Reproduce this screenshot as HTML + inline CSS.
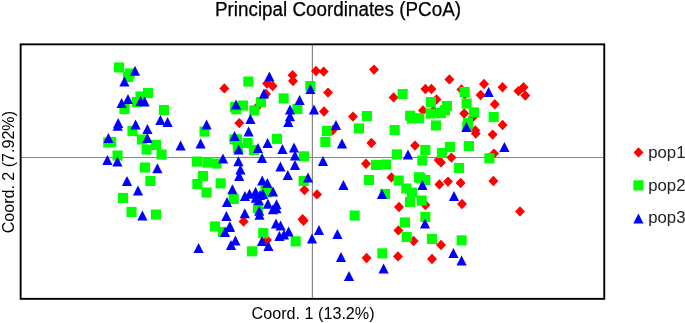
<!DOCTYPE html>
<html><head><meta charset="utf-8"><title>Principal Coordinates (PCoA)</title>
<style>
html,body{margin:0;padding:0;background:#fff;}
body{width:685px;height:323px;overflow:hidden;}
svg{display:block;font-family:"Liberation Sans",sans-serif;}
text{fill:#000;} svg text[fill]{fill:#222;}
</style></head><body>
<svg width="685" height="323" viewBox="0 0 685 323">
<rect width="685" height="323" fill="#fff"/>
<line x1="21" y1="157.45" x2="604" y2="157.45" stroke="#868686" stroke-width="1.1"/>
<line x1="312.4" y1="45" x2="312.4" y2="298" stroke="#868686" stroke-width="1.2"/>
<rect x="20.65" y="44.35" width="583.6" height="254.5" fill="none" stroke="#000" stroke-width="1.9"/>
<g fill="#ff0000"><path d="M224.3 83.2L229.3 88.4L224.3 93.6L219.3 88.4Z"/><path d="M316.0 65.8L321.0 71.0L316.0 76.2L311.0 71.0Z"/><path d="M323.6 66.4L328.6 71.6L323.6 76.8L318.6 71.6Z"/><path d="M292.6 70.0L297.6 75.2L292.6 80.4L287.6 75.2Z"/><path d="M293.0 75.8L298.0 81.0L293.0 86.2L288.0 81.0Z"/><path d="M328.0 87.4L333.0 92.6L328.0 97.8L323.0 92.6Z"/><path d="M324.0 106.3L329.0 111.5L324.0 116.7L319.0 111.5Z"/><path d="M353.0 111.4L358.0 116.6L353.0 121.8L348.0 116.6Z"/><path d="M267.0 78.4L272.0 83.6L267.0 88.8L262.0 83.6Z"/><path d="M272.6 80.8L277.6 86.0L272.6 91.2L267.6 86.0Z"/><path d="M266.0 88.8L271.0 94.0L266.0 99.2L261.0 94.0Z"/><path d="M256.6 102.4L261.6 107.6L256.6 112.8L251.6 107.6Z"/><path d="M239.3 117.9L244.3 123.1L239.3 128.3L234.3 123.1Z"/><path d="M332.6 125.1L337.6 130.3L332.6 135.5L327.6 130.3Z"/><path d="M304.4 184.8L309.4 190.0L304.4 195.2L299.4 190.0Z"/><path d="M317.0 189.2L322.0 194.4L317.0 199.6L312.0 194.4Z"/><path d="M302.6 214.0L307.6 219.2L302.6 224.4L297.6 219.2Z"/><path d="M303.6 215.6L308.6 220.8L303.6 226.0L298.6 220.8Z"/><path d="M243.6 216.3L248.6 221.5L243.6 226.7L238.6 221.5Z"/><path d="M267.0 234.8L272.0 240.0L267.0 245.2L262.0 240.0Z"/><path d="M374.0 64.4L379.0 69.6L374.0 74.8L369.0 69.6Z"/><path d="M449.4 74.2L454.4 79.4L449.4 84.6L444.4 79.4Z"/><path d="M425.4 83.8L430.4 89.0L425.4 94.2L420.4 89.0Z"/><path d="M431.4 83.8L436.4 89.0L431.4 94.2L426.4 89.0Z"/><path d="M393.6 92.2L398.6 97.4L393.6 102.6L388.6 97.4Z"/><path d="M484.0 78.8L489.0 84.0L484.0 89.2L479.0 84.0Z"/><path d="M461.4 84.2L466.4 89.4L461.4 94.6L456.4 89.4Z"/><path d="M464.6 89.2L469.6 94.4L464.6 99.6L459.6 94.4Z"/><path d="M480.6 89.8L485.6 95.0L480.6 100.2L475.6 95.0Z"/><path d="M436.5 94.2L441.5 99.4L436.5 104.6L431.5 99.4Z"/><path d="M423.0 105.2L428.0 110.4L423.0 115.6L418.0 110.4Z"/><path d="M433.3 105.6L438.3 110.8L433.3 116.0L428.3 110.8Z"/><path d="M464.2 108.3L469.2 113.5L464.2 118.7L459.2 113.5Z"/><path d="M473.0 111.8L478.0 117.0L473.0 122.2L468.0 117.0Z"/><path d="M475.3 125.2L480.3 130.4L475.3 135.6L470.3 130.4Z"/><path d="M475.8 128.4L480.8 133.6L475.8 138.8L470.8 133.6Z"/><path d="M492.6 129.4L497.6 134.6L492.6 139.8L487.6 134.6Z"/><path d="M371.4 137.8L376.4 143.0L371.4 148.2L366.4 143.0Z"/><path d="M415.0 140.4L420.0 145.6L415.0 150.8L410.0 145.6Z"/><path d="M438.6 154.8L443.6 160.0L438.6 165.2L433.6 160.0Z"/><path d="M441.0 157.2L446.0 162.4L441.0 167.6L436.0 162.4Z"/><path d="M451.4 152.4L456.4 157.6L451.4 162.8L446.4 157.6Z"/><path d="M366.0 158.6L371.0 163.8L366.0 169.0L361.0 163.8Z"/><path d="M494.0 148.4L499.0 153.6L494.0 158.8L489.0 153.6Z"/><path d="M391.4 172.2L396.4 177.4L391.4 182.6L386.4 177.4Z"/><path d="M425.4 199.8L430.4 205.0L425.4 210.2L420.4 205.0Z"/><path d="M399.0 201.8L404.0 207.0L399.0 212.2L394.0 207.0Z"/><path d="M439.4 179.2L444.4 184.4L439.4 189.6L434.4 184.4Z"/><path d="M448.0 176.4L453.0 181.6L448.0 186.8L443.0 181.6Z"/><path d="M460.6 177.8L465.6 183.0L460.6 188.2L455.6 183.0Z"/><path d="M493.4 175.8L498.4 181.0L493.4 186.2L488.4 181.0Z"/><path d="M462.0 198.8L467.0 204.0L462.0 209.2L457.0 204.0Z"/><path d="M398.4 225.2L403.4 230.4L398.4 235.6L393.4 230.4Z"/><path d="M413.6 235.8L418.6 241.0L413.6 246.2L408.6 241.0Z"/><path d="M441.0 239.8L446.0 245.0L441.0 250.2L436.0 245.0Z"/><path d="M432.0 253.8L437.0 259.0L432.0 264.2L427.0 259.0Z"/><path d="M398.0 251.2L403.0 256.4L398.0 261.6L393.0 256.4Z"/><path d="M366.6 252.8L371.6 258.0L366.6 263.2L361.6 258.0Z"/><path d="M502.5 82.1L507.5 87.3L502.5 92.5L497.5 87.3Z"/><path d="M518.4 85.9L523.4 91.1L518.4 96.3L513.4 91.1Z"/><path d="M523.5 82.1L528.5 87.3L523.5 92.5L518.5 87.3Z"/><path d="M525.3 90.3L530.3 95.5L525.3 100.7L520.3 95.5Z"/><path d="M494.8 99.1L499.8 104.3L494.8 109.5L489.8 104.3Z"/><path d="M502.6 119.8L507.6 125.0L502.6 130.2L497.6 125.0Z"/><path d="M520.0 206.2L525.0 211.4L520.0 216.6L515.0 211.4Z"/><path d="M638.5 147.2L643.5 152.4L638.5 157.6L633.5 152.4Z"/></g>
<g fill="#00ff00"><rect x="114.0" y="62.4" width="10.1" height="10.1"/><rect x="124.5" y="68.5" width="10.1" height="10.1"/><rect x="123.1" y="72.0" width="10.1" height="10.1"/><rect x="142.9" y="88.0" width="10.1" height="10.1"/><rect x="135.5" y="91.5" width="10.1" height="10.1"/><rect x="131.9" y="97.0" width="10.1" height="10.1"/><rect x="119.4" y="104.0" width="10.1" height="10.1"/><rect x="158.9" y="105.0" width="10.1" height="10.1"/><rect x="127.4" y="126.0" width="10.1" height="10.1"/><rect x="199.5" y="126.5" width="10.1" height="10.1"/><rect x="136.9" y="134.5" width="10.1" height="10.1"/><rect x="103.2" y="137.5" width="10.1" height="10.1"/><rect x="106.2" y="137.1" width="10.1" height="10.1"/><rect x="150.9" y="139.9" width="10.1" height="10.1"/><rect x="141.5" y="144.5" width="10.1" height="10.1"/><rect x="156.5" y="149.5" width="10.1" height="10.1"/><rect x="112.5" y="150.5" width="10.1" height="10.1"/><rect x="191.9" y="156.5" width="10.1" height="10.1"/><rect x="202.3" y="157.5" width="10.1" height="10.1"/><rect x="211.5" y="158.5" width="10.1" height="10.1"/><rect x="139.9" y="162.5" width="10.1" height="10.1"/><rect x="197.9" y="170.9" width="10.1" height="10.1"/><rect x="145.3" y="175.9" width="10.1" height="10.1"/><rect x="118.0" y="192.9" width="10.1" height="10.1"/><rect x="126.5" y="206.9" width="10.1" height="10.1"/><rect x="150.9" y="209.5" width="10.1" height="10.1"/><rect x="192.3" y="178.9" width="10.1" height="10.1"/><rect x="215.6" y="178.3" width="10.1" height="10.1"/><rect x="201.5" y="187.5" width="10.1" height="10.1"/><rect x="228.6" y="193.9" width="10.1" height="10.1"/><rect x="209.9" y="221.4" width="10.1" height="10.1"/><rect x="217.9" y="226.9" width="10.1" height="10.1"/><rect x="243.3" y="76.5" width="10.1" height="10.1"/><rect x="255.9" y="97.0" width="10.1" height="10.1"/><rect x="278.6" y="93.4" width="10.1" height="10.1"/><rect x="305.3" y="81.0" width="10.1" height="10.1"/><rect x="292.3" y="104.0" width="10.1" height="10.1"/><rect x="237.9" y="100.5" width="10.1" height="10.1"/><rect x="230.1" y="102.0" width="10.1" height="10.1"/><rect x="231.2" y="104.2" width="10.1" height="10.1"/><rect x="249.3" y="105.4" width="10.1" height="10.1"/><rect x="321.9" y="126.0" width="10.1" height="10.1"/><rect x="320.3" y="136.9" width="10.1" height="10.1"/><rect x="353.9" y="123.4" width="10.1" height="10.1"/><rect x="229.4" y="134.3" width="10.1" height="10.1"/><rect x="231.9" y="134.5" width="10.1" height="10.1"/><rect x="242.5" y="137.9" width="10.1" height="10.1"/><rect x="232.9" y="142.9" width="10.1" height="10.1"/><rect x="248.9" y="144.9" width="10.1" height="10.1"/><rect x="271.9" y="133.8" width="10.1" height="10.1"/><rect x="298.9" y="151.3" width="10.1" height="10.1"/><rect x="298.6" y="175.9" width="10.1" height="10.1"/><rect x="349.6" y="210.5" width="10.1" height="10.1"/><rect x="260.4" y="185.4" width="10.1" height="10.1"/><rect x="262.3" y="187.4" width="10.1" height="10.1"/><rect x="252.9" y="203.2" width="10.1" height="10.1"/><rect x="258.2" y="228.1" width="10.1" height="10.1"/><rect x="290.6" y="236.3" width="10.1" height="10.1"/><rect x="246.9" y="246.3" width="10.1" height="10.1"/><rect x="397.6" y="89.0" width="10.1" height="10.1"/><rect x="361.9" y="111.0" width="10.1" height="10.1"/><rect x="425.9" y="97.0" width="10.1" height="10.1"/><rect x="441.9" y="101.0" width="10.1" height="10.1"/><rect x="439.9" y="105.2" width="10.1" height="10.1"/><rect x="435.9" y="108.0" width="10.1" height="10.1"/><rect x="425.6" y="108.5" width="10.1" height="10.1"/><rect x="405.1" y="110.7" width="10.1" height="10.1"/><rect x="406.9" y="113.5" width="10.1" height="10.1"/><rect x="414.1" y="113.2" width="10.1" height="10.1"/><rect x="459.6" y="87.0" width="10.1" height="10.1"/><rect x="461.6" y="98.5" width="10.1" height="10.1"/><rect x="468.9" y="107.4" width="10.1" height="10.1"/><rect x="462.9" y="118.0" width="10.1" height="10.1"/><rect x="462.2" y="121.7" width="10.1" height="10.1"/><rect x="430.9" y="120.4" width="10.1" height="10.1"/><rect x="488.6" y="112.0" width="10.1" height="10.1"/><rect x="389.6" y="125.0" width="10.1" height="10.1"/><rect x="420.3" y="144.9" width="10.1" height="10.1"/><rect x="444.9" y="142.0" width="10.1" height="10.1"/><rect x="463.9" y="141.0" width="10.1" height="10.1"/><rect x="436.9" y="147.9" width="10.1" height="10.1"/><rect x="391.9" y="149.3" width="10.1" height="10.1"/><rect x="417.3" y="155.5" width="10.1" height="10.1"/><rect x="370.9" y="159.9" width="10.1" height="10.1"/><rect x="380.9" y="159.5" width="10.1" height="10.1"/><rect x="453.9" y="162.9" width="10.1" height="10.1"/><rect x="484.3" y="153.3" width="10.1" height="10.1"/><rect x="363.9" y="174.9" width="10.1" height="10.1"/><rect x="393.6" y="175.5" width="10.1" height="10.1"/><rect x="413.9" y="172.2" width="10.1" height="10.1"/><rect x="415.3" y="173.1" width="10.1" height="10.1"/><rect x="420.3" y="174.9" width="10.1" height="10.1"/><rect x="401.3" y="183.5" width="10.1" height="10.1"/><rect x="406.9" y="187.5" width="10.1" height="10.1"/><rect x="404.9" y="196.9" width="10.1" height="10.1"/><rect x="416.6" y="195.5" width="10.1" height="10.1"/><rect x="379.9" y="188.9" width="10.1" height="10.1"/><rect x="420.3" y="211.9" width="10.1" height="10.1"/><rect x="399.9" y="217.4" width="10.1" height="10.1"/><rect x="401.6" y="231.9" width="10.1" height="10.1"/><rect x="426.9" y="233.9" width="10.1" height="10.1"/><rect x="456.6" y="235.3" width="10.1" height="10.1"/><rect x="377.3" y="248.3" width="10.1" height="10.1"/><rect x="633.4" y="180.3" width="10.1" height="10.1"/></g>
<g fill="#0000ff"><path d="M135.0 65.8L140.1 75.8L129.9 75.8Z"/><path d="M124.4 76.6L129.5 86.6L119.3 86.6Z"/><path d="M128.0 94.0L133.1 104.0L122.9 104.0Z"/><path d="M121.6 98.0L126.7 108.0L116.5 108.0Z"/><path d="M140.6 96.0L145.7 106.0L135.5 106.0Z"/><path d="M144.6 96.4L149.7 106.4L139.5 106.4Z"/><path d="M118.2 117.9L123.3 127.9L113.1 127.9Z"/><path d="M117.7 120.7L122.8 130.7L112.6 130.7Z"/><path d="M135.6 119.4L140.7 129.4L130.5 129.4Z"/><path d="M160.4 115.0L165.5 125.0L155.3 125.0Z"/><path d="M167.6 117.0L172.7 127.0L162.5 127.0Z"/><path d="M206.6 119.4L211.7 129.4L201.5 129.4Z"/><path d="M147.4 124.0L152.5 134.0L142.3 134.0Z"/><path d="M147.4 133.0L152.5 143.0L142.3 143.0Z"/><path d="M108.4 133.0L113.5 143.0L103.3 143.0Z"/><path d="M180.6 140.4L185.7 150.4L175.5 150.4Z"/><path d="M200.6 138.4L205.7 148.4L195.5 148.4Z"/><path d="M107.4 155.0L112.5 165.0L102.3 165.0Z"/><path d="M117.4 156.6L122.5 166.6L112.3 166.6Z"/><path d="M223.0 153.6L228.1 163.6L217.9 163.6Z"/><path d="M157.4 163.2L162.5 173.2L152.3 173.2Z"/><path d="M127.0 176.0L132.1 186.0L121.9 186.0Z"/><path d="M138.0 185.4L143.1 195.4L132.9 195.4Z"/><path d="M142.4 210.4L147.5 220.4L137.3 220.4Z"/><path d="M232.4 184.2L237.5 194.2L227.3 194.2Z"/><path d="M227.0 197.0L232.1 207.0L221.9 207.0Z"/><path d="M226.4 211.0L231.5 221.0L221.3 221.0Z"/><path d="M225.0 227.0L230.1 237.0L219.9 237.0Z"/><path d="M230.0 221.4L235.1 231.4L224.9 231.4Z"/><path d="M231.0 240.0L236.1 250.0L225.9 250.0Z"/><path d="M198.6 243.0L203.7 253.0L193.5 253.0Z"/><path d="M269.4 71.4L274.5 81.4L264.3 81.4Z"/><path d="M264.0 88.4L269.1 98.4L258.9 98.4Z"/><path d="M310.4 84.0L315.5 94.0L305.3 94.0Z"/><path d="M299.6 95.0L304.7 105.0L294.5 105.0Z"/><path d="M314.0 104.4L319.1 114.4L308.9 114.4Z"/><path d="M290.0 104.4L295.1 114.4L284.9 114.4Z"/><path d="M290.0 111.2L295.1 121.2L284.9 121.2Z"/><path d="M288.3 117.0L293.4 127.0L283.2 127.0Z"/><path d="M236.0 99.4L241.1 109.4L230.9 109.4Z"/><path d="M250.4 114.0L255.5 124.0L245.3 124.0Z"/><path d="M336.0 120.0L341.1 130.0L330.9 130.0Z"/><path d="M248.6 126.6L253.7 136.6L243.5 136.6Z"/><path d="M234.6 131.0L239.7 141.0L229.5 141.0Z"/><path d="M238.6 144.4L243.7 154.4L233.5 154.4Z"/><path d="M258.0 143.0L263.1 153.0L252.9 153.0Z"/><path d="M267.6 138.0L272.7 148.0L262.5 148.0Z"/><path d="M282.4 144.0L287.5 154.0L277.3 154.0Z"/><path d="M294.0 142.4L299.1 152.4L288.9 152.4Z"/><path d="M295.0 150.4L300.1 160.4L289.9 160.4Z"/><path d="M262.0 153.0L267.1 163.0L256.9 163.0Z"/><path d="M238.4 156.2L243.5 166.2L233.3 166.2Z"/><path d="M240.4 164.6L245.5 174.6L235.3 174.6Z"/><path d="M280.4 161.4L285.5 171.4L275.3 171.4Z"/><path d="M295.0 160.0L300.1 170.0L289.9 170.0Z"/><path d="M287.8 170.0L292.9 180.0L282.7 180.0Z"/><path d="M308.0 172.5L313.1 182.5L302.9 182.5Z"/><path d="M323.0 156.0L328.1 166.0L317.9 166.0Z"/><path d="M342.0 138.4L347.1 148.4L336.9 148.4Z"/><path d="M239.2 171.0L244.3 181.0L234.1 181.0Z"/><path d="M343.4 180.0L348.5 190.0L338.3 190.0Z"/><path d="M244.8 208.2L249.9 218.2L239.7 218.2Z"/><path d="M262.2 175.4L267.3 185.4L257.1 185.4Z"/><path d="M267.3 178.0L272.4 188.0L262.2 188.0Z"/><path d="M273.0 186.6L278.1 196.6L267.9 196.6Z"/><path d="M244.9 190.9L250.0 200.9L239.8 200.9Z"/><path d="M249.5 188.7L254.6 198.7L244.4 198.7Z"/><path d="M255.6 186.8L260.7 196.8L250.5 196.8Z"/><path d="M260.0 190.0L265.1 200.0L254.9 200.0Z"/><path d="M263.0 189.0L268.1 199.0L257.9 199.0Z"/><path d="M255.8 192.8L260.9 202.8L250.7 202.8Z"/><path d="M258.9 195.3L264.0 205.3L253.8 205.3Z"/><path d="M259.2 205.8L264.3 215.8L254.1 215.8Z"/><path d="M259.5 209.8L264.6 219.8L254.4 219.8Z"/><path d="M267.9 198.7L273.0 208.7L262.8 208.7Z"/><path d="M276.5 199.2L281.6 209.2L271.4 209.2Z"/><path d="M273.0 204.3L278.1 214.3L267.9 214.3Z"/><path d="M276.4 203.2L281.5 213.2L271.3 213.2Z"/><path d="M276.0 218.6L281.1 228.6L270.9 228.6Z"/><path d="M280.6 220.5L285.7 230.5L275.5 230.5Z"/><path d="M229.4 222.0L234.5 232.0L224.3 232.0Z"/><path d="M288.6 226.6L293.7 236.6L283.5 236.6Z"/><path d="M284.0 229.4L289.1 239.4L278.9 239.4Z"/><path d="M279.4 231.0L284.5 241.0L274.3 241.0Z"/><path d="M262.0 236.0L267.1 246.0L256.9 246.0Z"/><path d="M268.4 241.0L273.5 251.0L263.3 251.0Z"/><path d="M235.4 235.4L240.5 245.4L230.3 245.4Z"/><path d="M319.0 225.0L324.1 235.0L313.9 235.0Z"/><path d="M312.0 233.4L317.1 243.4L306.9 243.4Z"/><path d="M337.4 229.0L342.5 239.0L332.3 239.0Z"/><path d="M341.0 252.0L346.1 262.0L335.9 262.0Z"/><path d="M349.0 271.0L354.1 281.0L343.9 281.0Z"/><path d="M488.6 87.0L493.7 97.0L483.5 97.0Z"/><path d="M466.4 122.0L471.5 132.0L461.3 132.0Z"/><path d="M408.0 149.6L413.1 159.6L402.9 159.6Z"/><path d="M422.4 180.0L427.5 190.0L417.3 190.0Z"/><path d="M382.0 189.0L387.1 199.0L376.9 199.0Z"/><path d="M454.0 191.0L459.1 201.0L448.9 201.0Z"/><path d="M425.0 218.6L430.1 228.6L419.9 228.6Z"/><path d="M453.4 248.0L458.5 258.0L448.3 258.0Z"/><path d="M461.6 255.6L466.7 265.6L456.5 265.6Z"/><path d="M383.6 263.4L388.7 273.4L378.5 273.4Z"/><path d="M504.4 142.0L509.5 152.0L499.3 152.0Z"/><path d="M638.4 213.5L643.5 223.5L633.3 223.5Z"/></g>
<text stroke="#000" stroke-width="0.25" x="215" y="15.7" font-size="20" textLength="246" lengthAdjust="spacingAndGlyphs">Principal Coordinates (PCoA)</text>
<text x="251.6" y="319" font-size="17" textLength="123" lengthAdjust="spacingAndGlyphs">Coord. 1 (13.2%)</text>
<text transform="translate(13.7 233.3) rotate(-90)" font-size="17" textLength="122.3" lengthAdjust="spacingAndGlyphs">Coord. 2 (7.92%)</text>
<text fill="#222" x="648.2" y="157.7" font-size="17" textLength="37.3" lengthAdjust="spacingAndGlyphs">pop1</text>
<text fill="#222" x="648.2" y="190.6" font-size="17" textLength="37.3" lengthAdjust="spacingAndGlyphs">pop2</text>
<text fill="#222" x="648.2" y="223.4" font-size="17" textLength="37.3" lengthAdjust="spacingAndGlyphs">pop3</text>
</svg>
</body></html>
